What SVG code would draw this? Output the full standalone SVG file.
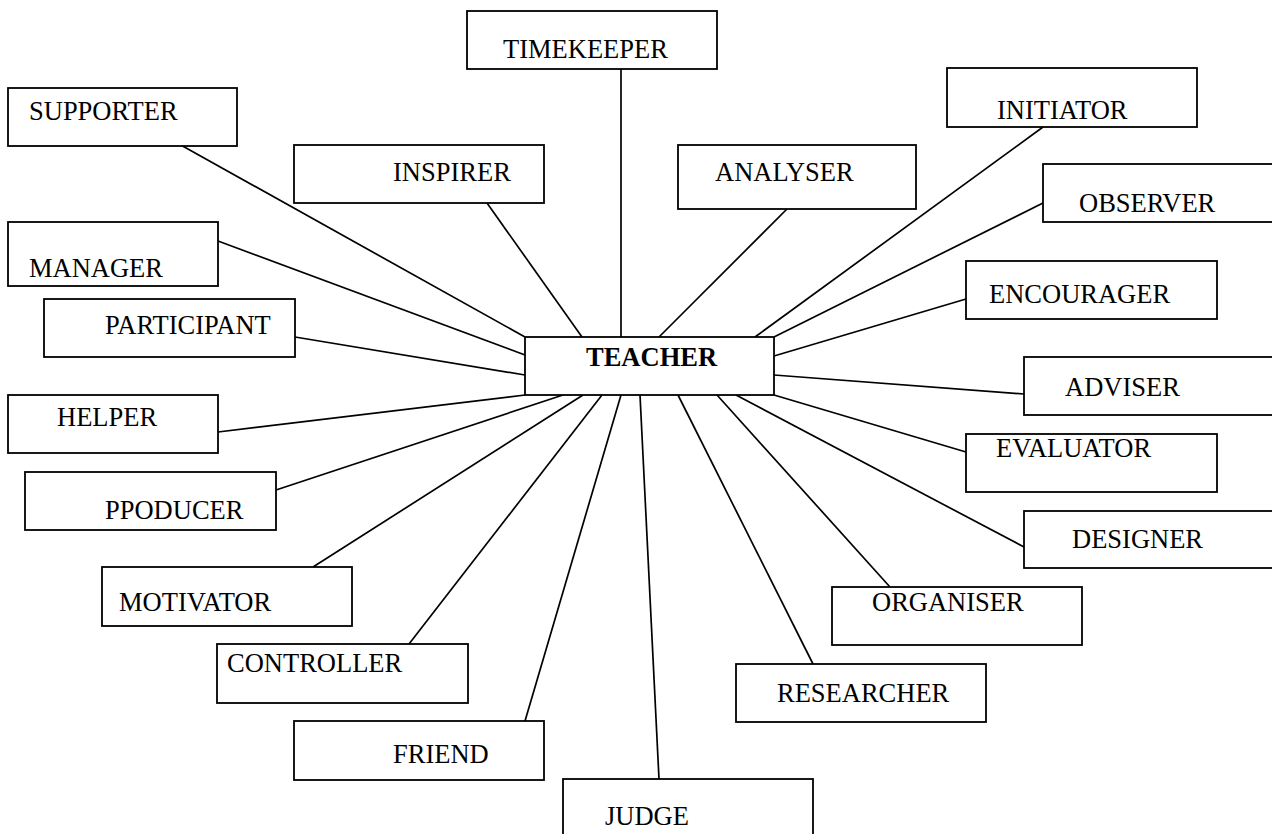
<svg xmlns="http://www.w3.org/2000/svg" width="1272" height="834" viewBox="0 0 1272 834">
<style>
rect{fill:#fff;stroke:#000;stroke-width:1.8}
text{font-family:"Liberation Serif","Times New Roman",serif;font-size:26.5px;fill:#000}
.b{font-weight:bold}
#connectors line{stroke:#000;stroke-width:1.7}
</style>
<rect x="0" y="0" width="1272" height="834" style="stroke:none"/>
<g id="connectors">
<line x1="179" y1="144" x2="525" y2="337"/>
<line x1="218" y1="241" x2="525" y2="355"/>
<line x1="295" y1="337" x2="525" y2="375"/>
<line x1="218" y1="432" x2="525" y2="395"/>
<line x1="276" y1="490" x2="563" y2="395"/>
<line x1="313" y1="567" x2="583" y2="395"/>
<line x1="409" y1="644" x2="602" y2="395"/>
<line x1="525" y1="721" x2="621" y2="395"/>
<line x1="659" y1="779" x2="640" y2="395"/>
<line x1="813" y1="664" x2="678" y2="395"/>
<line x1="890" y1="587" x2="717" y2="395"/>
<line x1="1024" y1="547" x2="736" y2="395"/>
<line x1="966" y1="452" x2="774" y2="395"/>
<line x1="1024" y1="394" x2="774" y2="375"/>
<line x1="966" y1="299" x2="774" y2="356"/>
<line x1="1043" y1="203" x2="774" y2="337"/>
<line x1="1043" y1="127" x2="755" y2="337"/>
<line x1="794" y1="202" x2="659" y2="337"/>
<line x1="621" y1="69" x2="621" y2="337"/>
<line x1="487" y1="203" x2="582" y2="337"/>
</g>
<g id="teacher"><rect x="525" y="337" width="249" height="58"/><text class="b" x="586" y="366">TEACHER</text></g>
<g id="timekeeper"><rect x="467" y="11" width="250" height="58"/><text x="503" y="58">TIMEKEEPER</text></g>
<g id="supporter"><rect x="8" y="88" width="229" height="58"/><text x="29" y="120">SUPPORTER</text></g>
<g id="inspirer"><rect x="294" y="145" width="250" height="58"/><text x="393" y="181">INSPIRER</text></g>
<g id="analyser"><rect x="678" y="145" width="238" height="64"/><text x="715" y="181">ANALYSER</text></g>
<g id="initiator"><rect x="947" y="68" width="250" height="59"/><text x="997" y="119">INITIATOR</text></g>
<g id="observer"><rect x="1043" y="164" width="240" height="58"/><text x="1079" y="212">OBSERVER</text></g>
<g id="manager"><rect x="8" y="222" width="210" height="64"/><text x="29" y="277">MANAGER</text></g>
<g id="participant"><rect x="44" y="299" width="251" height="58"/><text x="105" y="334">PARTICIPANT</text></g>
<g id="encourager"><rect x="966" y="261" width="251" height="58"/><text x="989" y="303">ENCOURAGER</text></g>
<g id="adviser"><rect x="1024" y="357" width="260" height="58"/><text x="1065" y="396">ADVISER</text></g>
<g id="helper"><rect x="8" y="395" width="210" height="58"/><text x="57" y="426">HELPER</text></g>
<g id="evaluator"><rect x="966" y="434" width="251" height="58"/><text x="996" y="457">EVALUATOR</text></g>
<g id="ppoducer"><rect x="25" y="472" width="251" height="58"/><text x="105" y="519">PPODUCER</text></g>
<g id="designer"><rect x="1024" y="511" width="260" height="57"/><text x="1072" y="548">DESIGNER</text></g>
<g id="motivator"><rect x="102" y="567" width="250" height="59"/><text x="119" y="611">MOTIVATOR</text></g>
<g id="organiser"><rect x="832" y="587" width="250" height="58"/><text x="872" y="611">ORGANISER</text></g>
<g id="controller"><rect x="217" y="644" width="251" height="59"/><text x="227" y="672">CONTROLLER</text></g>
<g id="researcher"><rect x="736" y="664" width="250" height="58"/><text x="777" y="702">RESEARCHER</text></g>
<g id="friend"><rect x="294" y="721" width="250" height="59"/><text x="393" y="763">FRIEND</text></g>
<g id="judge"><rect x="563" y="779" width="250" height="70"/><text x="605" y="825">JUDGE</text></g>
</svg>
